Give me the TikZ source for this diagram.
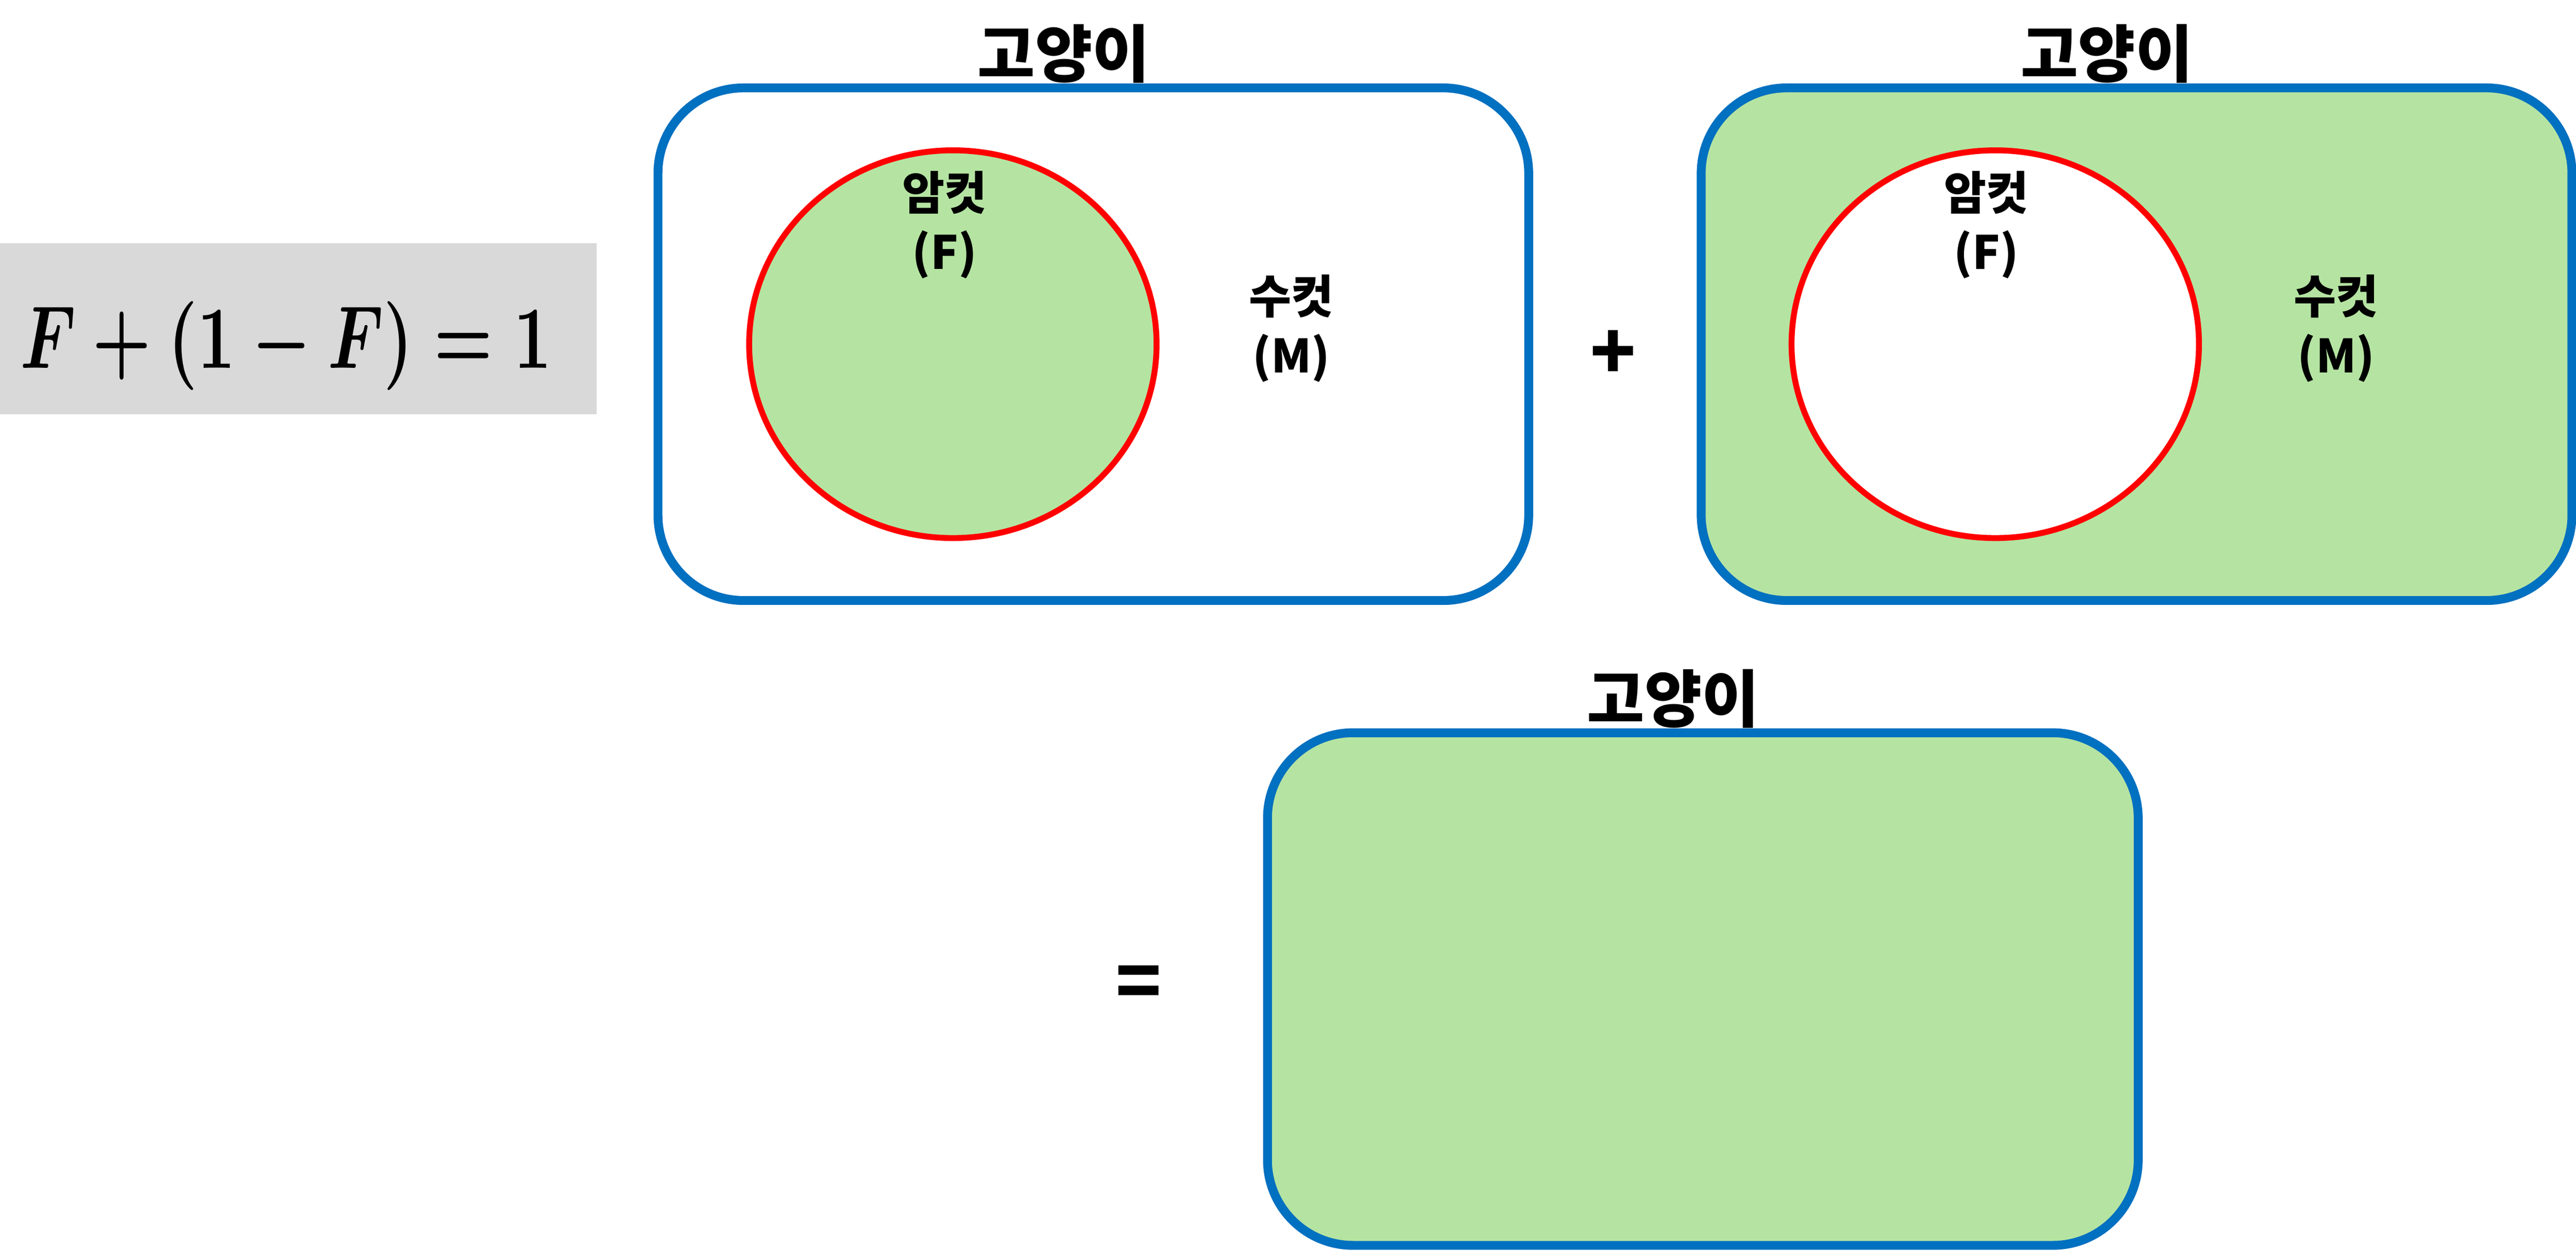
\documentclass[tikz,border=0pt]{standalone}
\usepackage{fontspec}
\usepackage{tikz}
\usetikzlibrary{positioning, shapes.geometric, calc}
\newfontfamily\kr{Noto Sans CJK KR}
\definecolor{catblue}{HTML}{0070C0}
\definecolor{femred}{HTML}{FF0000}
\definecolor{setgreen}{HTML}{B5E4A2}
\definecolor{eqgray}{HTML}{D9D9D9}

\tikzset{
    catbox/.style={draw=catblue, line width=5.4pt, rounded corners=52pt,
        minimum width=530pt, minimum height=312pt, inner sep=0pt},
    femset/.style={ellipse, draw=femred, line width=3.6pt,
        minimum width=248pt, minimum height=236pt, inner sep=0pt},
    cattitle/.style={font=\kr\bfseries\fontsize{38}{42}\selectfont, inner sep=0pt},
    setlabel/.style={font=\kr\bfseries\fontsize{28}{36}\selectfont, align=center, inner sep=0pt},
    opsign/.style={font=\kr\bfseries\fontsize{46}{50}\selectfont, inner sep=0pt}
}

\begin{document}
\begin{tikzpicture}[x=1pt, y=-1pt]
    \useasboundingbox (0,0) rectangle (1568,762);

    % equation
    \node (eq) [fill=eqgray, minimum width=363pt, minimum height=104pt, inner sep=0pt]
        at (181.5,200) {};
    \node (eqtext) [inner sep=0pt] at (174,210.5) {\scalebox{4.0}[5.42]{\boldmath$F+(1-F)=1$}};

    % female cats only
    \node (cat1) [catbox, fill=white] at (665.5,209.5) {};
    \node (fem1) [femset, fill=setgreen] at (580,209.5) {};
    \node (t1) [cattitle] at ($(cat1.north)+(-18,-18)$) {고양이};
    \node (f1) [setlabel] at (575,137) {암컷\\(F)};
    \node (m1) [setlabel] at (786,200) {수컷\\(M)};

    \node (plus) [opsign] at (982,216) {+};

    % male cats only
    \node (cat2) [catbox, fill=setgreen] at (1300.5,209.5) {};
    \node (fem2) [femset, fill=white] at (1214.5,209.5) {};
    \node (t2) [cattitle] at ($(cat2.north)+(-18,-18)$) {고양이};
    \node (f2) [setlabel] at (1209,137) {암컷\\(F)};
    \node (m2) [setlabel] at (1422,200) {수컷\\(M)};

    \node (eqsign) [opsign] at (693,601) {=};

    % all cats
    \node (cat3) [catbox, fill=setgreen] at (1036.5,602) {};
    \node (t3) [cattitle] at ($(cat3.north)+(-18,-18)$) {고양이};
\end{tikzpicture}
\end{document}
